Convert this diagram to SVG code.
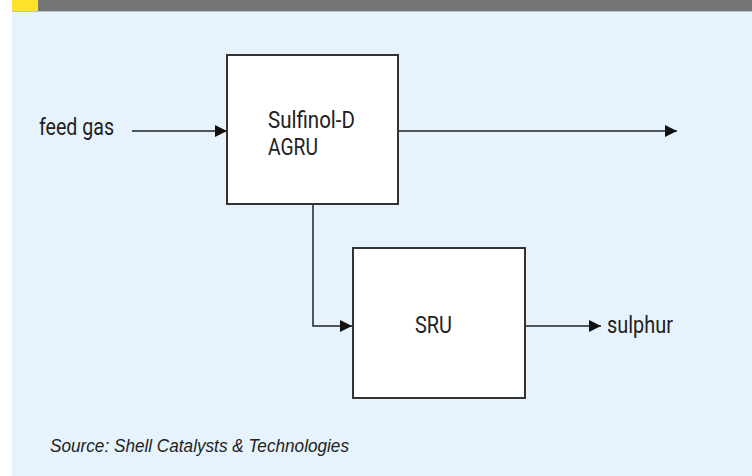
<svg xmlns="http://www.w3.org/2000/svg" width="752" height="476" viewBox="0 0 752 476">
<style>
.lbl{font-family:Roboto,"Liberation Sans",sans-serif;font-size:23px;fill:#222}
.box{fill:#fff;stroke:#333;stroke-width:2}
.ln{fill:none;stroke:#222;stroke-width:1.5}
</style>
<defs>
<marker id="ah" viewBox="0 0 12 12" refX="12" refY="6" markerWidth="12" markerHeight="12" markerUnits="userSpaceOnUse" orient="auto">
<path d="M0,0 L12,6 L0,12 Z" fill="#111"/>
</marker>
</defs>
<rect x="0" y="0" width="752" height="476" fill="#fff"/>
<rect x="12" y="11" width="740" height="465" fill="#e6f3fc"/>
<rect x="12" y="0" width="26" height="11" fill="#fde22c"/>
<rect x="38" y="0" width="714" height="11" fill="#757575"/>
<rect x="12" y="11" width="740" height="1" fill="#b9c4cb"/>
<g id="connectors">
<line class="ln" x1="132" y1="131" x2="227" y2="131" marker-end="url(#ah)"/>
<line class="ln" x1="398" y1="131" x2="677" y2="131" marker-end="url(#ah)"/>
<polyline class="ln" points="313,204 313,326 352,326" marker-end="url(#ah)"/>
<line class="ln" x1="525" y1="326" x2="601" y2="326" marker-end="url(#ah)"/>
</g>
<g id="feed-gas"><text class="lbl" x="39" y="135" textLength="75" lengthAdjust="spacingAndGlyphs">feed gas</text></g>
<g id="agru">
<rect class="box" x="227" y="55" width="171" height="149"/>
<text class="lbl" x="268" y="127.5" textLength="87" lengthAdjust="spacingAndGlyphs">Sulfinol-D</text>
<text class="lbl" x="268" y="155" textLength="50" lengthAdjust="spacingAndGlyphs">AGRU</text>
</g>
<g id="sru">
<rect class="box" x="353" y="248" width="172" height="150"/>
<text class="lbl" x="415" y="333" textLength="37" lengthAdjust="spacingAndGlyphs">SRU</text>
</g>
<g id="sulphur"><text class="lbl" x="607" y="333" textLength="66" lengthAdjust="spacingAndGlyphs">sulphur</text></g>
<text x="50" y="452" font-family="'Liberation Sans',Arial,sans-serif" font-style="italic" font-size="19" fill="#222" textLength="299" lengthAdjust="spacingAndGlyphs">Source: Shell Catalysts &amp; Technologies</text>
</svg>
